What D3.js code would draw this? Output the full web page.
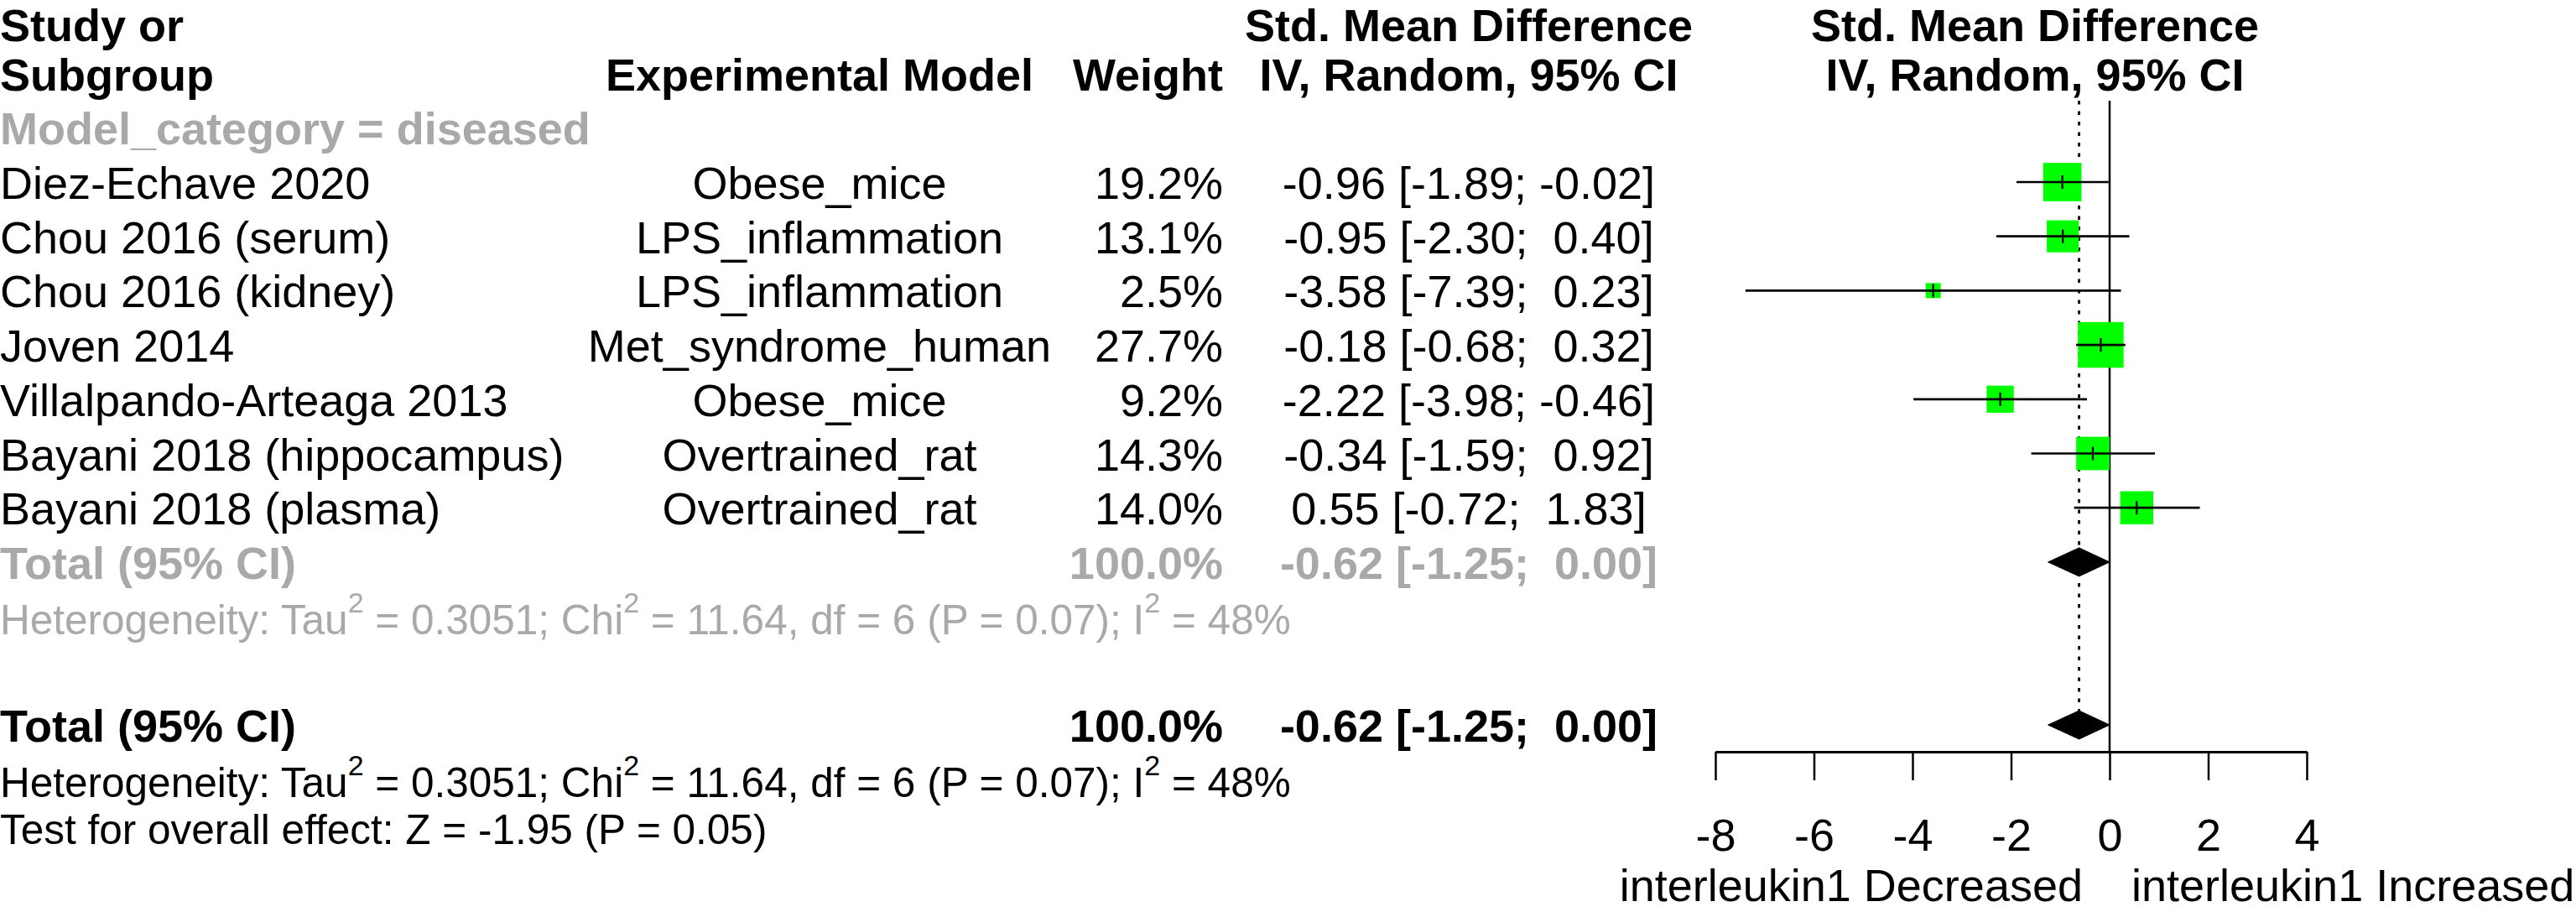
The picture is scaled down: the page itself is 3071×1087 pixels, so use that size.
<!DOCTYPE html>
<html>
<head>
<meta charset="utf-8">
<script src="https://cdn.jsdelivr.net/npm/d3@7"></script>
<style>
  html, body { margin: 0; padding: 0; background: #ffffff; }
  svg { display: block; }
  text { font-family: "Liberation Sans", Arial, Helvetica, sans-serif; white-space: pre; }
</style>
</head>
<body>
<svg id="chart" width="3071" height="1087"></svg>
<script>
// ---------------- data ----------------
const studies = ["Diez-Echave 2020", "Chou 2016 (serum)", "Chou 2016 (kidney)", "Joven 2014",
                 "Villalpando-Arteaga 2013", "Bayani 2018 (hippocampus)", "Bayani 2018 (plasma)"];
const models  = ["Obese_mice", "LPS_inflammation", "LPS_inflammation", "Met_syndrome_human",
                 "Obese_mice", "Overtrained_rat", "Overtrained_rat"];
const weights = [19.2, 13.1, 2.5, 27.7, 9.2, 14.3, 14.0];
const smd     = [-0.96, -0.95, -3.58, -0.18, -2.22, -0.34, 0.55];
const lower   = [-1.89, -2.30, -7.39, -0.68, -3.98, -1.59, -0.72];
const upper   = [-0.02,  0.40,  0.23,  0.32, -0.46,  0.92,  1.83];
const pooled  = { est: -0.62, lo: -1.25, hi: 0.00, weight: 100.0 };
const xTicks  = [-8, -6, -4, -2, 0, 2, 4];
const subgroupLabel = "Model_category = diseased";
const hetParts = ["Heterogeneity: Tau", "2", " = 0.3051; Chi", "2", " = 11.64, df = 6 (P = 0.07); I", "2", " = 48%"];
const testText = "Test for overall effect: Z = -1.95 (P = 0.05)";
const labelLeft = "interleukin1 Decreased";
const labelRight = "interleukin1 Increased";

// ---------------- layout ----------------
const FS = 54, FS_HET = 49.5, FS_SUP = 34;
const GREY = "#a9a9a9";
const svg = d3.select("#chart");

const row = d3.scaleLinear().domain([0, 1]).range([217, 281.7]);
const base = r => row(r) + 20;
const x = d3.scaleLinear().domain([-8, 4]).range([2045, 2750]);
const side = d3.scaleSqrt().domain([0, d3.max(weights)]).range([0, 9.91 * Math.sqrt(d3.max(weights))]);

const colStudy = 0, colModel = 977, colWeight = 1458, colCI = 1751, colPlot = 2426;
const topBase = 49; // first header line baseline (kept inside the canvas)

const fmt = v => v.toFixed(2);
const pad = (s, n) => " ".repeat(Math.max(0, n - s.length)) + s;
const ciText = (e, l, u) => `${fmt(e)} [${fmt(l)}; ${pad(fmt(u), 5)}]`;

function txt(xp, yp, s, opt = {}) {
  return svg.append("text")
    .attr("x", xp).attr("y", yp)
    .attr("font-size", opt.size || FS)
    .attr("font-weight", opt.bold ? "bold" : "normal")
    .attr("fill", opt.color || "#000")
    .attr("text-anchor", opt.anchor || "start")
    .text(s);
}

// headers
txt(colStudy, topBase, "Study or", { bold: true });
txt(colStudy, base(-2), "Subgroup", { bold: true });
txt(colModel, base(-2), "Experimental Model", { bold: true, anchor: "middle" });
txt(colWeight, base(-2), "Weight", { bold: true, anchor: "end" });
txt(colCI, topBase, "Std. Mean Difference", { bold: true, anchor: "middle" });
txt(colCI, base(-2), "IV, Random, 95% CI", { bold: true, anchor: "middle" });
txt(colPlot, topBase, "Std. Mean Difference", { bold: true, anchor: "middle" });
txt(colPlot, base(-2), "IV, Random, 95% CI", { bold: true, anchor: "middle" });

// subgroup label
txt(colStudy, base(-1), subgroupLabel, { bold: true, color: GREY });

// study rows text
studies.forEach((s, i) => {
  txt(colStudy, base(i), s);
  txt(colModel, base(i), models[i], { anchor: "middle" });
  txt(colWeight, base(i), weights[i].toFixed(1) + "%", { anchor: "end" });
  txt(colCI, base(i), ciText(smd[i], lower[i], upper[i]), { anchor: "middle" });
});

// subgroup total
const rSub = studies.length;          // 7
const rSubHet = rSub + 1;             // 8
const rTot = rSub + 3;                // 10
const rTotHet = rTot + 1;             // 11
const rTest = rTot + 1.88;

txt(colStudy, base(rSub), "Total (95% CI)", { bold: true, color: GREY });
txt(colWeight, base(rSub), pooled.weight.toFixed(1) + "%", { bold: true, color: GREY, anchor: "end" });
txt(colCI, base(rSub), ciText(pooled.est, pooled.lo, pooled.hi), { bold: true, color: GREY, anchor: "middle" });

function het(yp, color) {
  const t = svg.append("text").attr("x", colStudy).attr("y", yp)
    .attr("font-size", FS_HET).attr("fill", color);
  hetParts.forEach((p, i) => {
    const sup = i % 2 === 1;
    const prevSup = i > 0 && (i - 1) % 2 === 1;
    const ts = t.append("tspan").text(p);
    if (sup) ts.attr("font-size", FS_SUP).attr("dy", -26);
    else if (prevSup) ts.attr("dy", 26);
  });
}
het(base(rSubHet) + 1, GREY);

txt(colStudy, base(rTot), "Total (95% CI)", { bold: true });
txt(colWeight, base(rTot), pooled.weight.toFixed(1) + "%", { bold: true, anchor: "end" });
txt(colCI, base(rTot), ciText(pooled.est, pooled.lo, pooled.hi), { bold: true, anchor: "middle" });
het(base(rTotHet) + 1, "#000");
txt(colStudy, base(rTest), testText, { size: FS_HET });

// ---------------- plot ----------------
const axisY = row(rTot) + 32;
const lineTop = 120;
const dHalf = 17;

// zero line
svg.append("line")
  .attr("x1", x(0)).attr("x2", x(0))
  .attr("y1", lineTop).attr("y2", axisY)
  .attr("stroke", "#000").attr("stroke-width", 2.5);

// pooled dotted line
svg.append("line")
  .attr("x1", x(pooled.est)).attr("x2", x(pooled.est))
  .attr("y1", lineTop).attr("y2", row(rTot) - dHalf)
  .attr("stroke", "#000").attr("stroke-width", 2.8)
  .attr("stroke-dasharray", "4.5,8");

// squares
const g = svg.append("g");
studies.forEach((s, i) => {
  const sz = side(weights[i]);
  g.append("rect")
    .attr("x", x(smd[i]) - sz / 2).attr("y", row(i) - sz / 2)
    .attr("width", sz).attr("height", sz)
    .attr("fill", "#00ff00").attr("stroke", "#00ff00").attr("stroke-width", 2.3);
});
// CI lines and tick marks
studies.forEach((s, i) => {
  g.append("line")
    .attr("x1", x(lower[i])).attr("x2", x(upper[i]))
    .attr("y1", row(i)).attr("y2", row(i))
    .attr("stroke", "#000").attr("stroke-width", 2.7);
  g.append("line")
    .attr("x1", x(smd[i])).attr("x2", x(smd[i]))
    .attr("y1", row(i) - 8).attr("y2", row(i) + 8)
    .attr("stroke", "#000").attr("stroke-width", 2.3);
});

// diamonds
function diamond(r) {
  const yc = row(r);
  const pts = [[x(pooled.lo), yc], [x(pooled.est), yc - dHalf], [x(pooled.hi), yc], [x(pooled.est), yc + dHalf]];
  svg.append("path").attr("d", d3.line()(pts) + "Z").attr("fill", "#000").attr("stroke", "#000").attr("stroke-width", 1);
}
diamond(rSub);
diamond(rTot);

// axis
const axis = d3.axisBottom(x).tickValues(xTicks).tickSize(34).tickSizeOuter(0).tickPadding(46)
  .tickFormat(d3.format("d"));
const ag = svg.append("g").attr("transform", `translate(0,${axisY})`).call(axis);
ag.select(".domain").attr("stroke", "#000").attr("stroke-width", 3);
ag.selectAll(".tick line").attr("stroke", "#000").attr("stroke-width", 2.5);
ag.selectAll(".tick text")
  .attr("font-size", FS).attr("fill", "#000")
  .attr("font-family", "'Liberation Sans', Arial, sans-serif")
  .text(d => String(d).replace("\u2212", "-"));

// direction labels
txt(x(0) - 32, 1074, labelLeft, { anchor: "end" });
txt(x(0) + 26, 1074, labelRight, { anchor: "start" });
</script>
</body>
</html>
